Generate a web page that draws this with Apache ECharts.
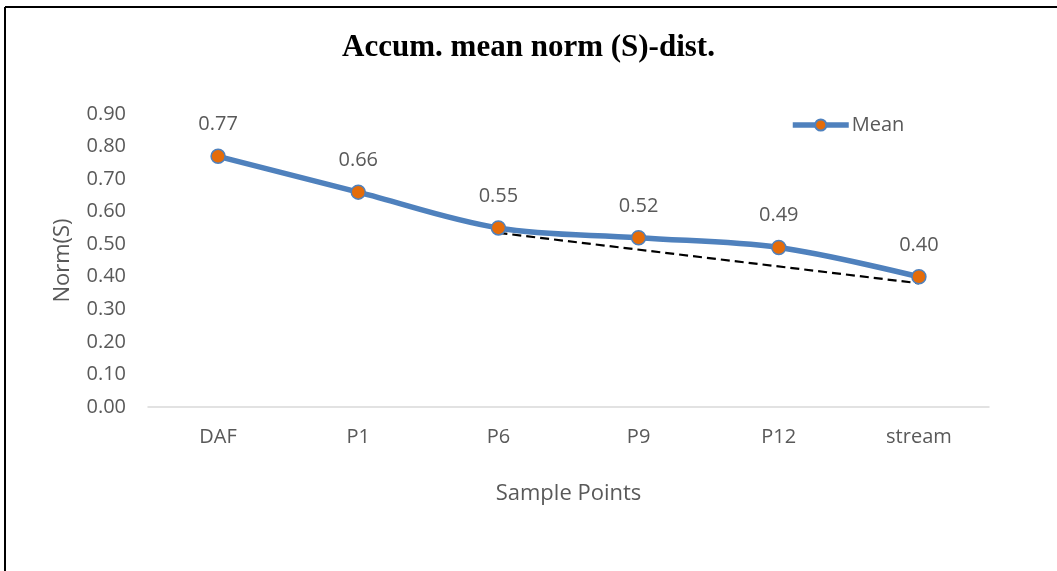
<!DOCTYPE html>
<html>
<head>
<meta charset="utf-8">
<script src="https://cdn.jsdelivr.net/npm/echarts@6/dist/echarts.min.js"></script>
<style>
  html, body { margin: 0; padding: 0; background: #fff; }
  #chart { width: 1057px; height: 571px; }
</style>
</head>
<body>
<div id="chart"></div>
<script>
// Sample locations along the flow path
const categories = ['DAF', 'P1', 'P6', 'P9', 'P12', 'stream'];
// Accumulated mean of the normalised (S)-distance at each location
const meanValues = [0.77, 0.66, 0.55, 0.52, 0.49, 0.40];
// Straight reference line from P6 to the stream (only its two ends are given)
const trendValues = [null, null, 0.535, null, null, 0.38];

const axisFont = '"Open Sans", "Noto Sans", sans-serif';
const textGrey = '#595959';

const chart = echarts.init(document.getElementById('chart'), null, { renderer: 'canvas' });

chart.setOption({
  backgroundColor: '#ffffff',
  animation: false,
  title: {
    text: 'Accum. mean norm (S)-dist.',
    left: 'center',
    top: 27,
    textStyle: {
      fontFamily: '"Liberation Serif", "Times New Roman", serif',
      fontWeight: 'bold',
      fontSize: 31,
      color: '#000'
    }
  },
  legend: {
    data: ['Mean'],
    left: 785,
    top: 110,
    itemWidth: 56,
    itemHeight: 14,
    itemGap: 4,
    lineStyle: { width: 5.5 },
    textStyle: { fontFamily: axisFont, fontSize: 20, color: textGrey, padding: [0, 0, 0, -2] }
  },
  grid: { left: 148, right: 68, top: 114, bottom: 164 },
  xAxis: {
    type: 'category',
    data: categories,
    boundaryGap: true,
    name: 'Sample Points',
    nameLocation: 'middle',
    nameGap: 76,
    nameTextStyle: { fontFamily: axisFont, fontSize: 22, color: textGrey },
    axisLine: { lineStyle: { color: '#d9d9d9', width: 1.5 } },
    axisTick: { show: false },
    axisLabel: { fontFamily: axisFont, fontSize: 20, color: textGrey, margin: 20 }
  },
  yAxis: {
    type: 'value',
    min: 0,
    max: 0.9,
    interval: 0.1,
    name: 'Norm(S)',
    nameLocation: 'middle',
    nameGap: 74,
    nameRotate: 90,
    nameTextStyle: { fontFamily: axisFont, fontSize: 22, color: textGrey },
    axisLine: { show: false },
    axisTick: { show: false },
    splitLine: { show: false },
    axisLabel: {
      fontFamily: axisFont, fontSize: 20, color: textGrey, margin: 22,
      formatter: v => v.toFixed(2)
    }
  },
  series: [
    {
      name: 'Mean',
      type: 'line',
      data: meanValues,
      smooth: 0.35,
      symbol: 'circle',
      symbolSize: 14,
      lineStyle: { color: '#4f81bd', width: 5.5 },
      itemStyle: { color: '#e46c0a', borderColor: '#4f81bd', borderWidth: 1.5 },
      label: {
        show: true,
        position: 'top',
        distance: 14,
        fontFamily: axisFont,
        fontSize: 20,
        color: textGrey,
        formatter: p => p.value.toFixed(2)
      },
      z: 3
    },
    {
      name: 'Trend',
      type: 'line',
      data: trendValues,
      connectNulls: true,
      symbol: 'none',
      lineStyle: { color: '#000', width: 2.2, type: [9, 5] },
      silent: true,
      z: 2
    }
  ],
  graphic: [
    // frame edges along the top and left of the figure
    { type: 'line', shape: { x1: 5, y1: 7, x2: 1057, y2: 7 }, style: { stroke: '#000', lineWidth: 2 } },
    { type: 'line', shape: { x1: 5, y1: 7, x2: 5, y2: 571 }, style: { stroke: '#000', lineWidth: 2 } }
  ]
});
</script>
</body>
</html>
